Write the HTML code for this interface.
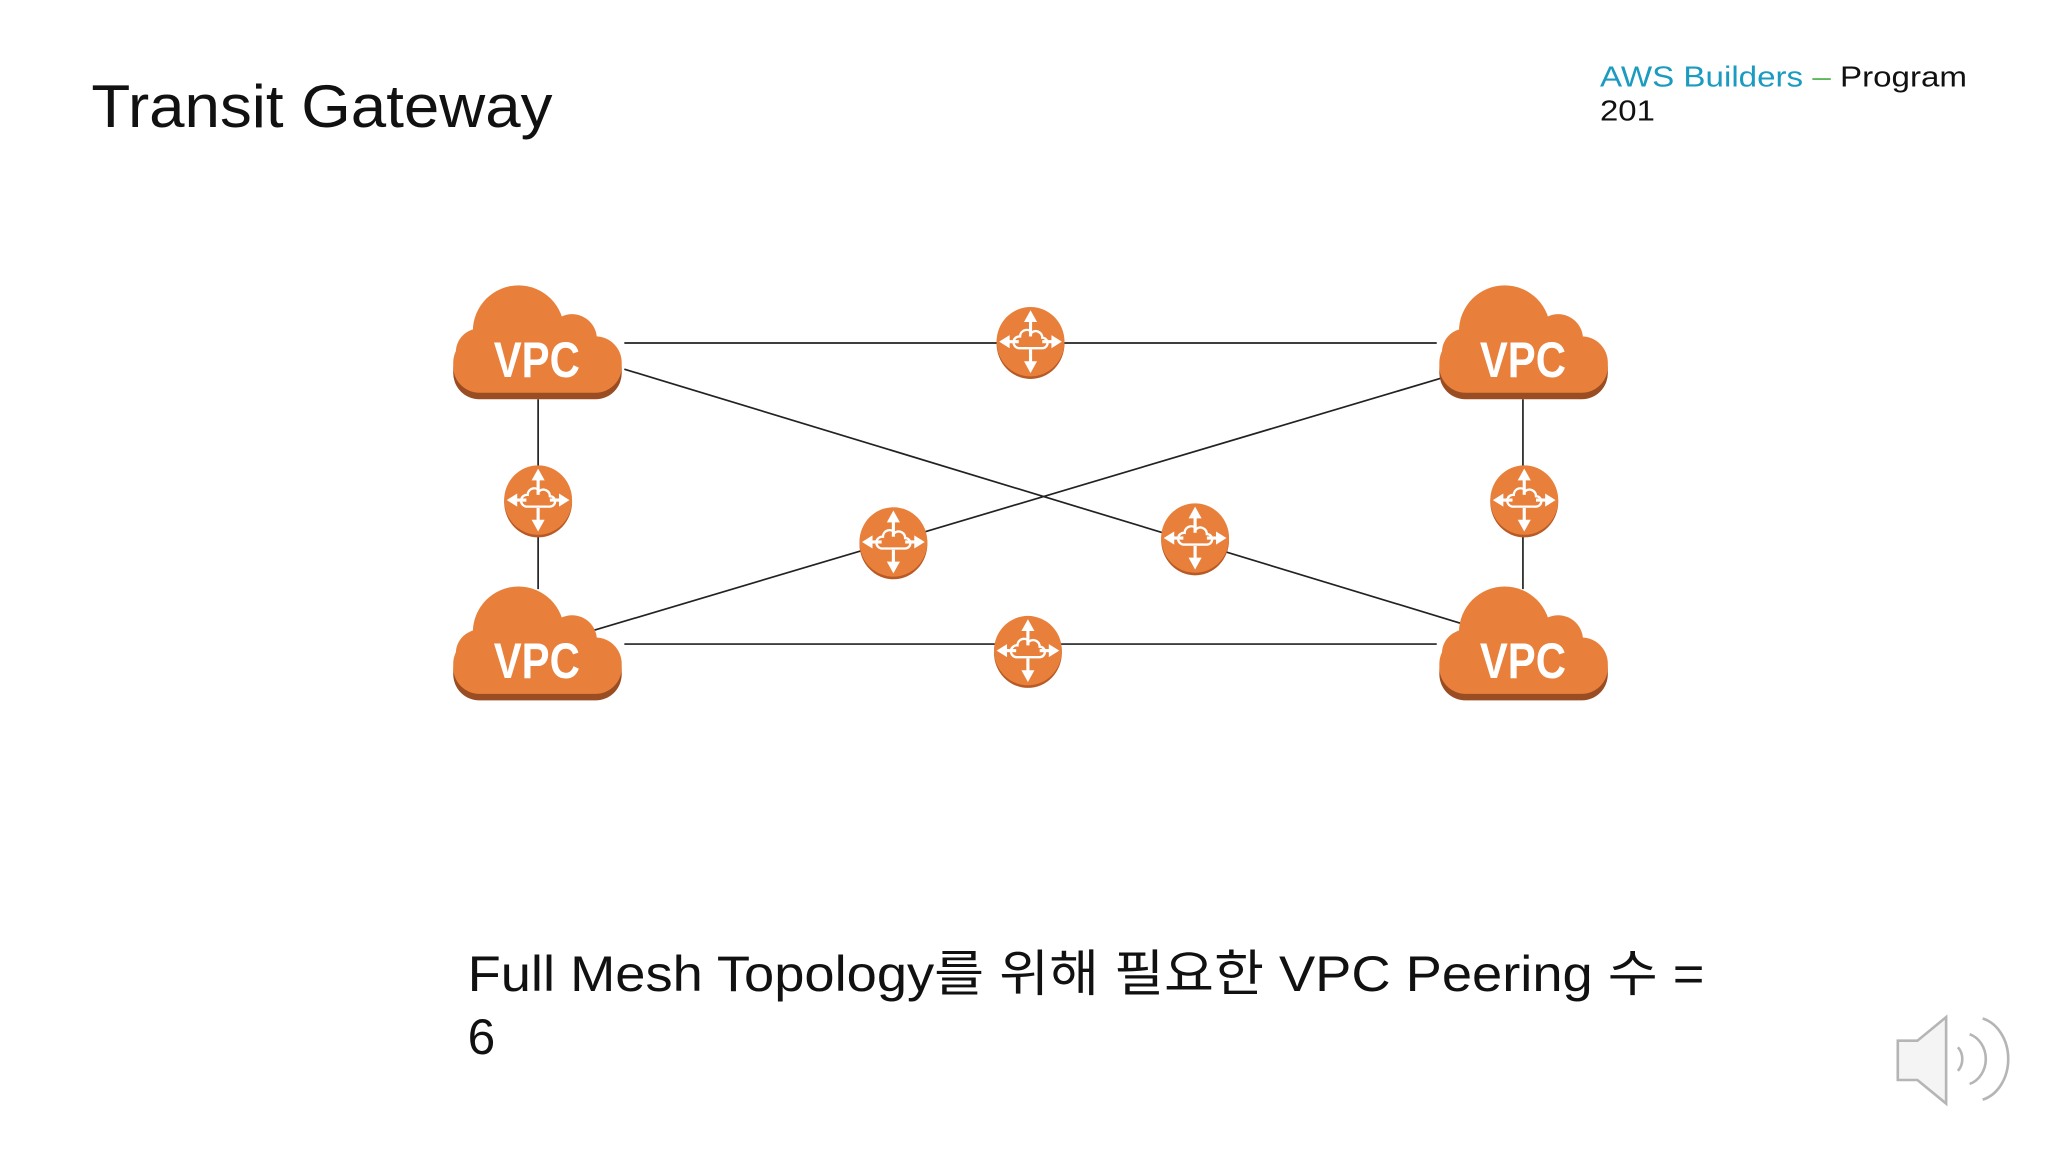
<!DOCTYPE html>
<html><head><meta charset="utf-8"><style>
html,body{margin:0;padding:0;background:#fff;}
svg{display:block;}
</style></head><body>
<svg width="2048" height="1152" viewBox="0 0 1568 880" preserveAspectRatio="none" xmlns="http://www.w3.org/2000/svg">
<defs>
<g id="cloud">
  <g fill="#9a4c22" transform="translate(0,5)">
    <circle cx="-14" cy="-12" r="35"/><circle cx="27" cy="-6" r="19"/><circle cx="-44" cy="4" r="18"/>
    <rect x="-64" y="-8" width="129" height="43" rx="20"/>
  </g>
  <g fill="#e8803b">
    <circle cx="-14" cy="-12" r="35"/><circle cx="27" cy="-6" r="19"/><circle cx="-44" cy="4" r="18"/>
    <rect x="-64" y="-8" width="129" height="43" rx="20"/>
  </g>
</g>
<g id="router">
  <ellipse cx="0" cy="1.5" rx="26" ry="27" fill="#b85a25"/>
  <ellipse cx="0" cy="0" rx="26" ry="26.5" fill="#e8803b"/>
  <g stroke="#fff" stroke-width="2.4" fill="none">
    <line x1="0" y1="-16" x2="0" y2="-4"/><line x1="0" y1="6" x2="0" y2="17"/>
    <line x1="-17" y1="0" x2="-9" y2="0"/><line x1="9" y1="0" x2="17" y2="0"/>
    <path d="M-9 5 h18 a4 4 0 0 0 0 -8 a5 5 0 0 0 -8 -4 a5 5 0 0 0 -9 3 a4.5 4.5 0 0 0 -1 9z" stroke-width="1.8"/>
  </g>
  <g fill="#fff">
    <polygon points="0,-24 -5,-15 5,-15"/><polygon points="0,24 -5,15 5,15"/>
    <polygon points="-24,0 -16,-5 -16,5"/><polygon points="24,0 16,-5 16,5"/>
  </g>
</g>
</defs>
<rect width="1568" height="880" fill="#fff"/>
<text x="70" y="97" font-family="Liberation Sans, sans-serif" font-size="46" fill="#111" textLength="353" lengthAdjust="spacingAndGlyphs">Transit Gateway</text>
<text x="1225" y="66" font-family="Liberation Sans, sans-serif" font-size="22" textLength="281" lengthAdjust="spacingAndGlyphs"><tspan fill="#1a9bbf">AWS Builders</tspan><tspan fill="#5cb85c"> – </tspan><tspan fill="#111">Program</tspan></text>
<text x="1225" y="92" font-family="Liberation Sans, sans-serif" font-size="22" fill="#111" textLength="42" lengthAdjust="spacingAndGlyphs">201</text>

<g stroke="#222" stroke-width="1.3">
  <line x1="478" y1="262" x2="1100" y2="262"/>
  <line x1="478" y1="492" x2="1100" y2="492"/>
  <line x1="412" y1="305" x2="412" y2="450"/>
  <line x1="1166" y1="305" x2="1166" y2="450"/>
  <line x1="478" y1="282" x2="1118" y2="476"/>
  <line x1="453" y1="482" x2="1103" y2="289"/>
</g>

<g font-family="Liberation Sans Narrow, Liberation Sans, sans-serif" font-size="38" font-weight="bold" fill="#fff" text-anchor="middle">
  <use href="#cloud" transform="translate(411,265)"/>
  <text x="411" y="288" textLength="66" lengthAdjust="spacingAndGlyphs">VPC</text>
  <use href="#cloud" transform="translate(1166,265)"/>
  <text x="1166" y="288" textLength="66" lengthAdjust="spacingAndGlyphs">VPC</text>
  <use href="#cloud" transform="translate(411,495)"/>
  <text x="411" y="518" textLength="66" lengthAdjust="spacingAndGlyphs">VPC</text>
  <use href="#cloud" transform="translate(1166,495)"/>
  <text x="1166" y="518" textLength="66" lengthAdjust="spacingAndGlyphs">VPC</text>
</g>

<use href="#router" transform="translate(789,261)"/>
<use href="#router" transform="translate(412,382)"/>
<use href="#router" transform="translate(684,414)"/>
<use href="#router" transform="translate(915,411)"/>
<use href="#router" transform="translate(1167,382)"/>
<use href="#router" transform="translate(787,497)"/>

<text x="358" y="757" font-family="Liberation Sans, 'Noto Sans CJK KR', sans-serif" font-size="38" fill="#111" textLength="947" lengthAdjust="spacingAndGlyphs">Full Mesh Topology를 위해 필요한 VPC Peering 수 =</text>
<text x="358" y="805" font-family="Liberation Sans, sans-serif" font-size="38" fill="#111">6</text>

<g fill="none" stroke="#b5b5b5" stroke-width="2">
  <path d="M1453 795 h15 l22 -18 v66 l-22 -18 h-15z" fill="#f4f4f4"/>
  <path d="M1499 800 a10 12 0 0 1 0 18"/>
  <path d="M1508 790 a18 20 0 0 1 0 38"/>
  <path d="M1518 778 a26 32 0 0 1 0 62"/>
</g>
</svg>
</body></html>
